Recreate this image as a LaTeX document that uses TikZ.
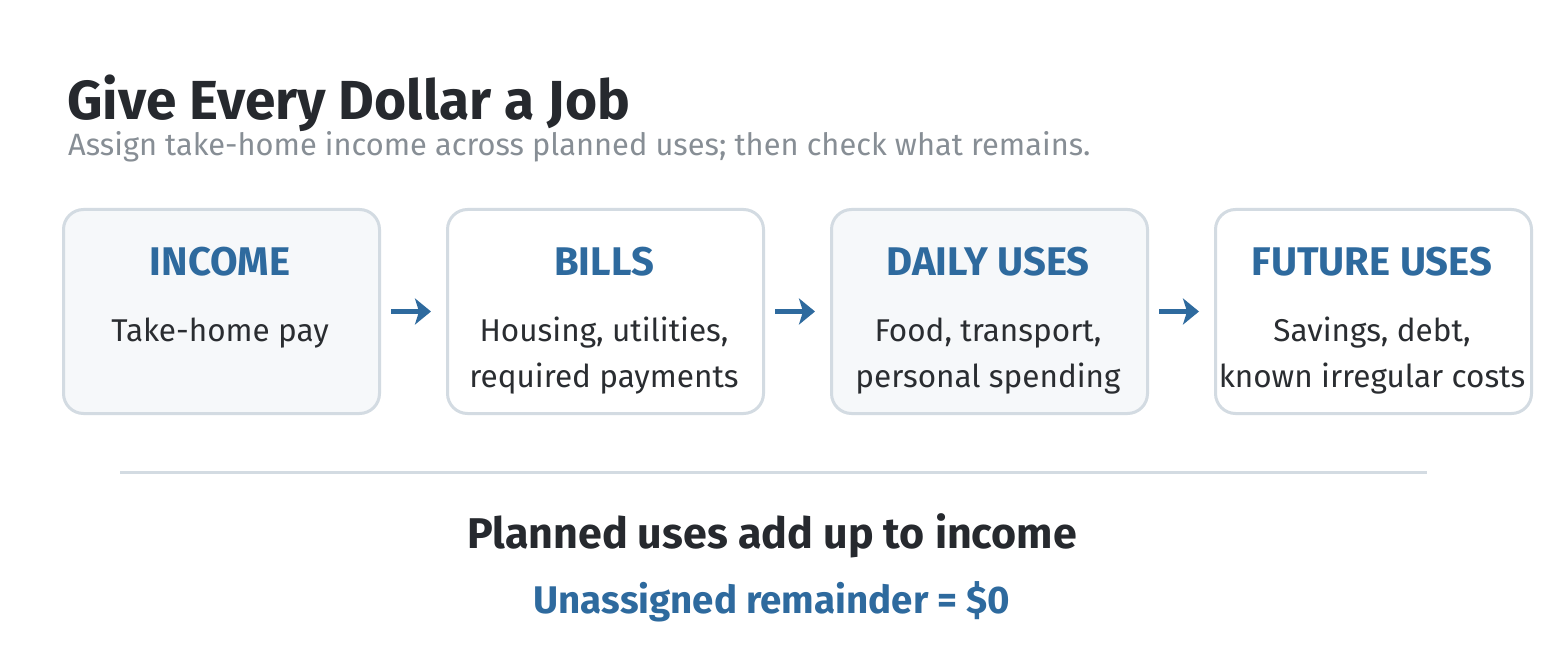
\documentclass[tikz,border=0pt]{standalone}
\usepackage{fontspec}
\setmainfont{Fira Sans}
\usetikzlibrary{arrows.meta}
\definecolor{ink}{HTML}{26292E}
\definecolor{bodyink}{HTML}{2A2D31}
\definecolor{accent}{HTML}{2E6A9E}
\definecolor{muted}{HTML}{878E95}
\definecolor{edge}{HTML}{D3DBE2}
\definecolor{softfill}{HTML}{F6F8FA}
\tikzset{
  card/.style={draw=edge, line width=3pt, rounded corners=20pt, minimum width=316pt, minimum height=204pt, inner sep=0pt, anchor=north west},
  cardhead/.style={anchor=base, text=accent, font=\fontsize{40}{44}\selectfont\bfseries, inner sep=0pt},
  cardbody/.style={anchor=base, text=bodyink, font=\fontsize{31.5}{46}\selectfont, align=center, inner sep=0pt},
  flow/.style={draw=accent, line width=5.5pt, -{Stealth[length=16pt,width=26pt,inset=4pt]}, shorten <=10pt, shorten >=15pt},
}
\begin{document}
\begin{tikzpicture}[x=1pt,y=-1pt]
\useasboundingbox[fill=white] (0,0) rectangle (1546,660);
\node[anchor=base west, inner sep=0pt, text=ink, font=\fontsize{55}{60}\selectfont\bfseries] (title) at (67,120) {Give Every Dollar a Job};
\node[anchor=base west, inner sep=0pt, text=muted, font=\fontsize{30.8}{34}\selectfont] (subtitle) at (68,156) {Assign take-home income across planned uses; then check what remains.};

\node[card, fill=softfill] (income) at (62,208) {};
\node[card, fill=white] (bills) at (446,208) {};
\node[card, fill=softfill] (daily) at (830,208) {};
\node[card, fill=white] (future) at (1214,208) {};

\node[cardhead] (h1) at (220,276) {INCOME};
\node[cardhead] (h2) at (604,276) {BILLS};
\node[cardhead] (h3) at (988,276) {DAILY USES};
\node[cardhead] (h4) at (1372,276) {FUTURE USES};

\node[cardbody] (b1) at (220,341) {Take-home pay};
\node[cardbody] (b2) at (604,387) {Housing, utilities,\\required payments};
\node[cardbody] (b3) at (988,387) {Food, transport,\\personal spending};
\node[cardbody] (b4) at (1372,387) {Savings, debt,\\known irregular costs};

\draw[flow] (income.east) -- (bills.west);
\draw[flow] (bills.east) -- (daily.west);
\draw[flow] (daily.east) -- (future.west);

\coordinate (ruleL) at (120,472);
\coordinate (ruleR) at (1427,472);
\draw[edge, line width=3pt] (ruleL) -- (ruleR);

\node[anchor=base, inner sep=0pt, text=ink, font=\fontsize{43}{48}\selectfont\bfseries] (total) at (772,548) {Planned uses add up to income};
\node[anchor=base, inner sep=0pt, text=accent, font=\fontsize{38.5}{44}\selectfont\bfseries] (remainder) at (772,613) {Unassigned remainder = \$0};
\end{tikzpicture}
\end{document}
